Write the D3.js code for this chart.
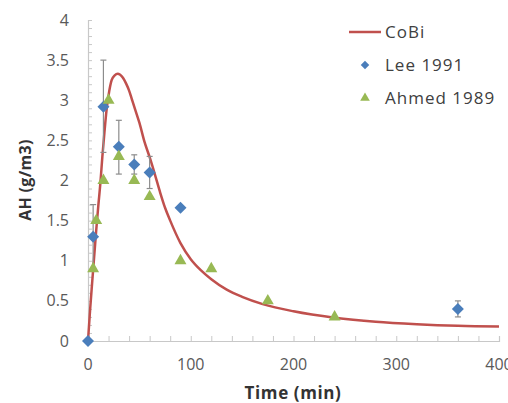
<!DOCTYPE html>
<html><head><meta charset="utf-8">
<script src="https://cdn.jsdelivr.net/npm/d3@7"></script>
<style>html,body{margin:0;padding:0;background:#fff;overflow:hidden}</style>
</head><body><svg id="c" width="508" height="403"></svg>
<script>
// ---- data ----
const cobiTime = [0, 2, 4, 6, 8, 10, 12, 14, 16, 18, 20, 23, 26, 29, 31, 34, 37, 40, 43, 46, 50, 55, 60, 65, 70, 75, 80, 90, 100, 110, 120, 135, 150, 170, 200, 240, 280, 320, 360, 400];
const cobiAH   = [0, 0.38, 0.72, 1.05, 1.38, 1.68, 1.96, 2.3, 2.6, 2.87, 3.06, 3.25, 3.31, 3.33, 3.32, 3.28, 3.21, 3.12, 3.0, 2.88, 2.72, 2.48, 2.29, 2.08, 1.86, 1.66, 1.5, 1.22, 1.02, 0.88, 0.77, 0.64, 0.55, 0.46, 0.37, 0.29, 0.24, 0.21, 0.19, 0.18];
const leeTime    = [0, 5, 15, 30, 45, 60, 90, 360];
const leeAH      = [0, 1.3, 2.92, 2.42, 2.2, 2.1, 1.66, 0.4];
const leeErrLow  = [0, 0.4, 0.57, 0.34, 0.12, 0.2, 0, 0.1];
const leeErrHigh = [0, 0.4, 0.58, 0.33, 0.12, 0.2, 0, 0.1];
const ahmedTime = [5, 8, 15, 20, 30, 45, 60, 90, 120, 175, 240];
const ahmedAH   = [0.9, 1.5, 2.0, 3.0, 2.3, 2.0, 1.8, 1.0, 0.9, 0.5, 0.3];
const xTicks = [0, 100, 200, 300, 400];
const yTicks = [0, 0.5, 1, 1.5, 2, 2.5, 3, 3.5, 4];
const seriesNames = ["CoBi", "Lee 1991", "Ahmed 1989"];
const xTitle = "Time (min)";
const yTitle = "AH (g/m3)";

// ---- layout ----
const svg = d3.select("#c");
const x = d3.scaleLinear().domain([0, 400]).range([88, 499]);
const y = d3.scaleLinear().domain([0, 4]).range([341, 20]);
const red = "#C0504D", blue = "#4A7EBB", green = "#98B954";
const font = "'Open Sans', 'Liberation Sans', sans-serif";

// axes
const gx = svg.append("g").attr("transform", `translate(0,${y(0)})`)
  .call(d3.axisBottom(x).tickValues(d3.range(0, 401, 20)).tickSize(-5).tickFormat(""));
const gy = svg.append("g").attr("transform", `translate(${x(0)},0)`)
  .call(d3.axisLeft(y).tickValues(d3.range(0, 41, 1).map(d => d / 10)).tickSize(-4).tickFormat(""));
[gx, gy].forEach(g => {
  g.selectAll("path").attr("stroke", "#c8c8c8").attr("stroke-width", 1.2);
  g.selectAll("line").attr("stroke", "#c8c8c8").attr("stroke-width", 1);
});

// tick labels
svg.append("g").selectAll("text").data(xTicks).join("text")
  .attr("x", d => x(d)).attr("y", 370).attr("text-anchor", "middle")
  .attr("font-family", font).attr("font-size", 16).attr("fill", "#595959")
  .text(d => d);
svg.append("g").selectAll("text").data(yTicks).join("text")
  .attr("x", 69).attr("y", d => y(d)).attr("dy", "0.35em").attr("text-anchor", "end")
  .attr("font-family", font).attr("font-size", 16).attr("fill", "#595959")
  .text(d => d);

// titles
svg.append("text").attr("x", 293).attr("y", 399).attr("text-anchor", "middle")
  .attr("font-family", font).attr("font-size", 17).attr("font-weight", "bold").attr("fill", "#333")
  .attr("letter-spacing", 0.6)
  .text(xTitle);
svg.append("text").attr("transform", `translate(31,180) rotate(-90)`).attr("text-anchor", "middle")
  .attr("font-family", font).attr("font-size", 16).attr("font-weight", "bold").attr("fill", "#333")
  .attr("letter-spacing", 0.3)
  .text(yTitle);

// CoBi line
const cobi = cobiTime.map((t, i) => [t, cobiAH[i]]);
svg.append("path").datum(cobi)
  .attr("d", d3.line().x(d => x(d[0])).y(d => y(d[1])).curve(d3.curveMonotoneX))
  .attr("fill", "none").attr("stroke", red).attr("stroke-width", 2.5);

// Lee error bars
const lee = leeTime.map((t, i) => ({t, v: leeAH[i], lo: leeErrLow[i], hi: leeErrHigh[i]}));
const eb = svg.append("g").attr("stroke", "#8c8c8c").attr("stroke-width", 1.2);
lee.filter(d => d.lo > 0 || d.hi > 0).forEach(d => {
  eb.append("line").attr("x1", x(d.t)).attr("x2", x(d.t)).attr("y1", y(d.v - d.lo)).attr("y2", y(d.v + d.hi));
  [d.v - d.lo, d.v + d.hi].forEach(v => eb.append("line")
    .attr("x1", x(d.t) - 3).attr("x2", x(d.t) + 3).attr("y1", y(v)).attr("y2", y(v)));
});

// Lee markers (diamonds)
const diamond = d3.symbol(d3.symbolSquare, 72);
svg.append("g").selectAll("path").data(lee).join("path")
  .attr("d", diamond).attr("fill", blue)
  .attr("transform", d => `translate(${x(d.t)},${y(d.v)}) rotate(45)`);

// Ahmed markers (triangles)
const tri = d3.symbol(d3.symbolTriangle, 62);
svg.append("g").selectAll("path").data(ahmedTime.map((t, i) => ({t, v: ahmedAH[i]}))).join("path")
  .attr("d", tri).attr("fill", green)
  .attr("transform", d => `translate(${x(d.t)},${y(d.v)})`);

// legend
const lg = svg.append("g");
lg.append("line").attr("x1", 349).attr("x2", 381).attr("y1", 32).attr("y2", 32)
  .attr("stroke", red).attr("stroke-width", 2.5);
lg.append("path").attr("d", d3.symbol(d3.symbolSquare, 36)).attr("fill", blue)
  .attr("transform", "translate(365,65) rotate(45)");
lg.append("path").attr("d", d3.symbol(d3.symbolTriangle, 40)).attr("fill", green)
  .attr("transform", "translate(365,98)");
lg.selectAll("text").data(seriesNames).join("text")
  .attr("x", 385).attr("y", (d, i) => 32 + i * 33).attr("dy", "0.35em")
  .attr("font-family", font).attr("font-size", 17).attr("fill", "#404040")
  .attr("letter-spacing", 1)
  .text(d => d);
</script>
</body></html>
